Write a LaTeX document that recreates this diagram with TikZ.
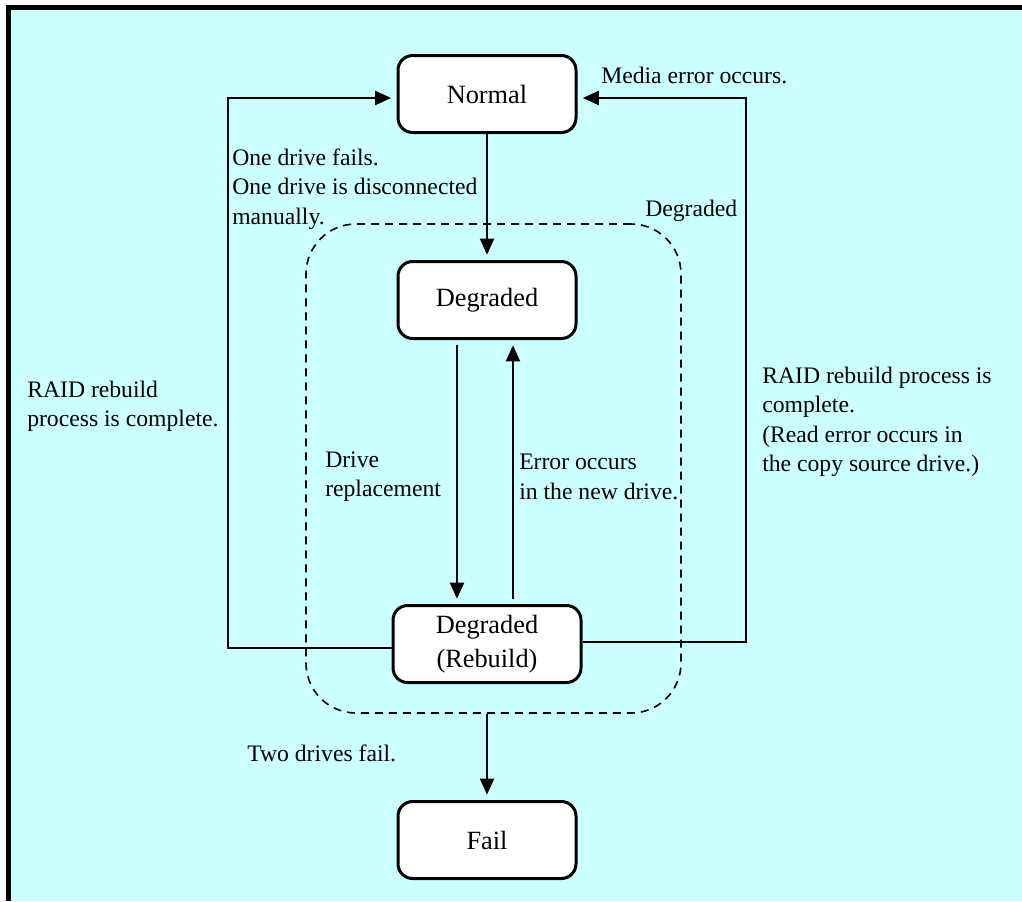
\documentclass[tikz,border=0pt]{standalone}
\usepackage{fontspec}
\setmainfont{Liberation Serif}
\usepackage{tikz}
\usetikzlibrary{arrows.meta}
\definecolor{bgcyan}{HTML}{CCFFFF}

\tikzset{
  state/.style={draw, line width=2.25pt, rounded corners=11pt, fill=white,
    minimum width=133.5pt, minimum height=57.75pt, align=center,
    font=\fontsize{19.75}{25.5}\selectfont},
  lbl/.style={anchor=west, align=left, inner sep=0pt,
    font=\fontsize{17.75}{22}\selectfont},
  conn/.style={line width=1.5pt},
  arr/.style={conn, -{Triangle[length=12pt,width=10.5pt]}, shorten >=4pt},
}

\begin{document}
\begin{tikzpicture}[x=0.75pt, y=-0.75pt]

\useasboundingbox (0,0) rectangle (1022,901);

% Background + frame
\fill[bgcyan] (8.5,7.5) rectangle (1022,901);
\draw[line width=3.4pt] (8.5,901) -- (8.5,7.5) -- (1022,7.5);

% Dashed group
\node[draw, line width=1.2pt, dash pattern=on 6pt off 4.5pt, rounded corners=37.5pt,
  minimum width=281.25pt, minimum height=366.75pt] (grp) at (493.5,468.5) {};
\node[lbl] (grplbl) at (645,211) {Degraded};

% State boxes
\node[state] (normal) at (487,94) {Normal};
\node[state] (degraded) at (487,300) {Degraded};
\node[state, minimum width=141pt] (rebuild) at (487,644) {Degraded\\(Rebuild)};
\node[state] (fail) at (487,840) {Fail};

% Turning points
\coordinate (lturn) at (228,98);
\coordinate (rturn) at (746,98);

% Connectors
\draw[arr] (normal) -- (degraded);
\draw[arr, shorten <=4pt] ([xshift=-22.5pt]degraded.south) -- ([xshift=-22.5pt]rebuild.north);
\draw[arr, shorten <=4pt] ([xshift=19.5pt]rebuild.north) -- ([xshift=19.5pt]degraded.south);
\draw[arr] ([yshift=-3pt]rebuild.west) -| (lturn) -- (lturn -| normal.west);
\draw[arr] ([yshift=1.5pt]rebuild.east) -| (rturn) -- (rturn -| normal.east);
\draw[arr] (grp.south -| fail.north) -- (fail.north);

% Descriptions
\node[lbl] (media) at (601,75) {Media error occurs.};
\node[lbl] (onefail) at (232,189) {One drive fails.\\One drive is disconnected\\manually.};
\node[lbl] (raidl) at (27,406) {RAID rebuild\\process is complete.};
\node[lbl] (raidr) at (762,422) {RAID rebuild process is\\complete.\\(Read error occurs in\\the copy source drive.)};
\node[lbl] (replace) at (325,477) {Drive\\replacement};
\node[lbl] (newerr) at (519,477) {Error occurs\\in the new drive.};
\node[lbl] (twofail) at (247,753) {Two drives fail.};

\end{tikzpicture}
\end{document}
